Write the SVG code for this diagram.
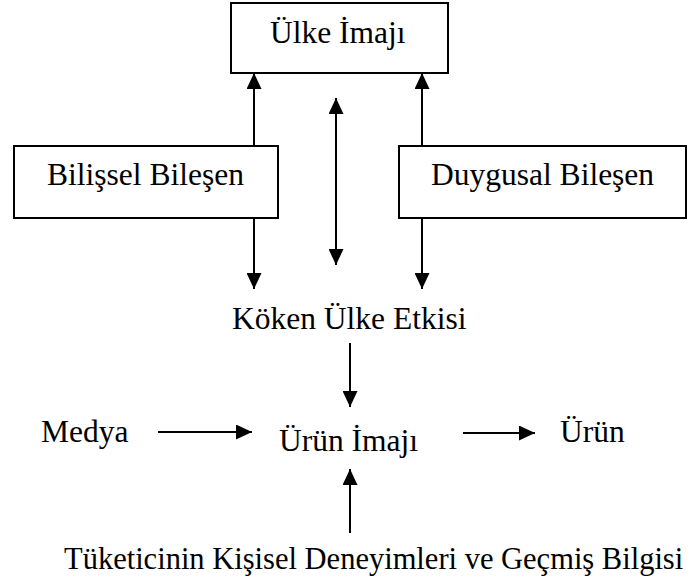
<svg xmlns="http://www.w3.org/2000/svg" width="700" height="586" viewBox="0 0 700 586">
<style>
.box{fill:#fff;stroke:#000;stroke-width:2}
.t{font-family:"Liberation Serif","Times New Roman",serif;font-size:31.5px;fill:#000}
.c{stroke:#000;stroke-width:2;fill:none}
</style>
<defs>
<marker id="ah" markerUnits="userSpaceOnUse" markerWidth="16" markerHeight="15" refX="16" refY="7.5" orient="auto-start-reverse">
<path d="M0,0 L16,7.5 L0,15 z" fill="#000"/>
</marker>
</defs>
<rect width="700" height="586" fill="#fff"/>
<g id="connectors">
<line class="c" x1="254" y1="146" x2="254" y2="73" marker-end="url(#ah)"/>
<line class="c" x1="336" y1="98" x2="336" y2="265" marker-start="url(#ah)" marker-end="url(#ah)"/>
<line class="c" x1="422" y1="146" x2="422" y2="73" marker-end="url(#ah)"/>
<line class="c" x1="254" y1="218" x2="254" y2="289" marker-end="url(#ah)"/>
<line class="c" x1="422" y1="218" x2="422" y2="289" marker-end="url(#ah)"/>
<line class="c" x1="350" y1="343" x2="350" y2="407" marker-end="url(#ah)"/>
<line class="c" x1="158" y1="432" x2="252" y2="432" marker-end="url(#ah)"/>
<line class="c" x1="463" y1="433" x2="535" y2="433" marker-end="url(#ah)"/>
<line class="c" x1="350" y1="533" x2="350" y2="469" marker-end="url(#ah)"/>
</g>
<g id="ulke-imaji">
<rect class="box" x="231" y="3" width="217" height="70"/>
<text class="t" x="270" y="43">Ülke İmajı</text>
</g>
<g id="bilissel-bilesen">
<rect class="box" x="14" y="146" width="264" height="72"/>
<text class="t" x="47" y="185">Bilişsel Bileşen</text>
</g>
<g id="duygusal-bilesen">
<rect class="box" x="399" y="146" width="287" height="72"/>
<text class="t" x="431" y="185">Duygusal Bileşen</text>
</g>
<g id="koken-ulke-etkisi">
<text class="t" x="232" y="329">Köken Ülke Etkisi</text>
</g>
<g id="medya">
<text class="t" x="41" y="442">Medya</text>
</g>
<g id="urun-imaji">
<text class="t" x="279" y="451">Ürün İmajı</text>
</g>
<g id="urun">
<text class="t" x="560" y="442">Ürün</text>
</g>
<g id="tuketici">
<text class="t" x="64" y="569" style="font-size:30.5px">Tüketicinin Kişisel Deneyimleri ve Geçmiş Bilgisi</text>
</g>
</svg>
